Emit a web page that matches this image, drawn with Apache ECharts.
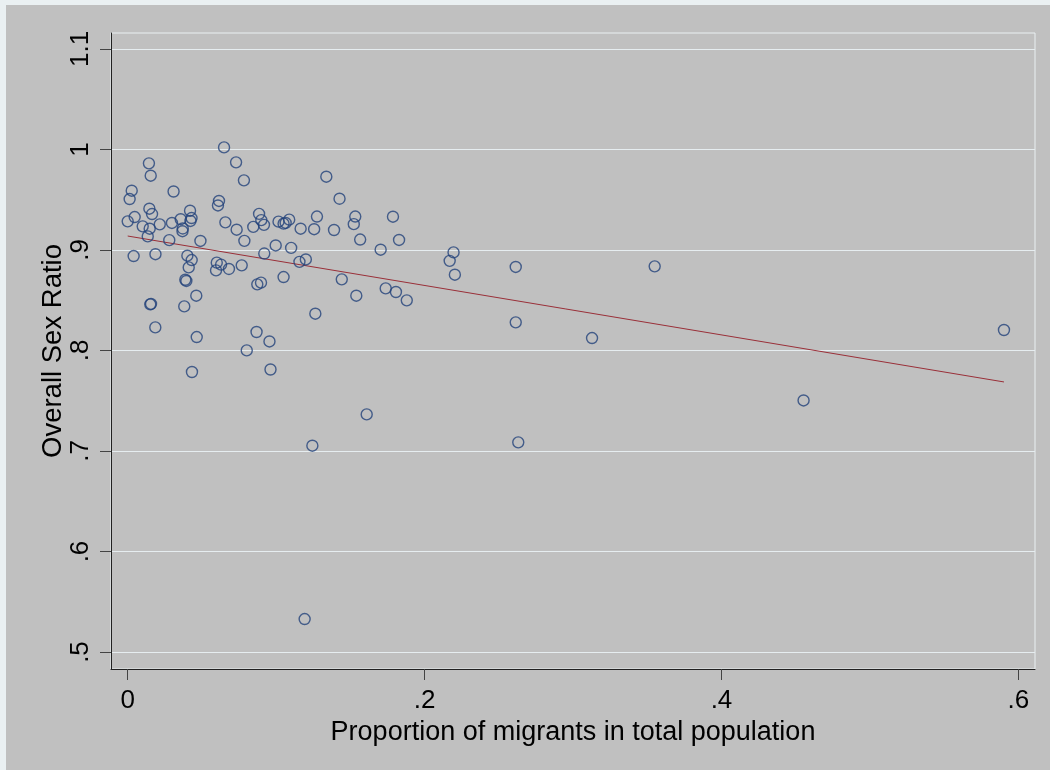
<!DOCTYPE html>
<html>
<head>
<meta charset="utf-8">
<script src="https://cdn.jsdelivr.net/npm/echarts@6/dist/echarts.min.js"></script>
<style>html,body{margin:0;padding:0;background:#eaf0f2;}#c{width:1050px;height:770px;}</style>
</head>
<body>
<div id="c"></div>
<script>
// Proportion of migrants in total population
const migrantShare = [0.0000,0.0013,0.0027,0.0047,0.0040,0.0101,0.0135,0.0143,0.0155,0.0146,
0.0164,0.0148,0.0187,0.0152,0.0157,0.0186,0.0216,0.0309,0.0298,0.0280,
0.0357,0.0371,0.0369,0.0420,0.0430,0.0423,0.0402,0.0431,0.0411,0.0388,
0.0395,0.0381,0.0433,0.0465,0.0462,0.0490,0.0615,0.0608,0.0649,0.0658,
0.0730,0.0734,0.0783,0.0786,0.0768,0.0802,0.0600,0.0595,0.0629,0.0682,
0.0846,0.0885,0.0900,0.0918,0.0920,0.0868,0.0955,0.0962,0.0873,0.0898,
0.1016,0.1050,0.1064,0.1088,0.0997,0.1101,0.1050,0.1157,0.1200,0.1165,
0.1244,0.1192,0.1264,0.1256,0.1275,0.1338,0.1390,0.1427,0.1442,0.1533,
0.1523,0.1566,0.1540,0.1610,0.1704,0.1738,0.1787,0.1807,0.1828,0.1880,
0.2195,0.2169,0.2204,0.2614,0.2614,0.2631,0.3128,0.3550,0.4553,0.5903];
// Overall Sex Ratio
const sexRatio = [0.9285,0.9507,0.9590,0.9328,0.8940,0.9235,0.9135,0.9862,0.9739,0.9411,
0.9358,0.9212,0.8958,0.8459,0.8463,0.8230,0.9255,0.9582,0.9269,0.9098,
0.9306,0.9214,0.9187,0.9391,0.9318,0.9289,0.8943,0.8900,0.8827,0.8704,
0.8692,0.8439,0.7786,0.8134,0.8545,0.9090,0.9488,0.9443,1.0021,0.9275,
0.9872,0.9202,0.9693,0.9091,0.8847,0.8001,0.8874,0.8797,0.8854,0.8811,
0.9230,0.9359,0.9297,0.9250,0.8965,0.8184,0.8090,0.7811,0.8658,0.8675,
0.9282,0.9262,0.9269,0.9302,0.9045,0.9021,0.8731,0.8882,0.8906,0.9212,
0.7053,0.5328,0.8366,0.9207,0.9333,0.9729,0.9199,0.9510,0.8708,0.9333,
0.9257,0.9104,0.8545,0.7364,0.9003,0.8618,0.9331,0.8582,0.9100,0.8499,
0.8976,0.8892,0.8754,0.8831,0.8280,0.7086,0.8124,0.8837,0.7503,0.8204];
// Fitted values (linear fit) at the ends of the data range
const fitX = [0.0, 0.5903];
const fitY = [0.9139, 0.7687];
const xTicks = [0, 0.2, 0.4, 0.6];
const yTicks = [0.5, 0.6, 0.7, 0.8, 0.9, 1.0, 1.1];

const fmt = v => { const r = Math.round(v * 10) / 10; return r === 0 ? '0' : String(r).replace(/^0\./, '.'); };
const chart = echarts.init(document.getElementById('c'), null, {renderer: 'canvas'});
const font = 'Liberation Sans, Arial, sans-serif';
chart.setOption({
  backgroundColor: 'transparent',
  animation: false,
  graphic: [{type: 'rect', left: 6, top: 5, shape: {width: 1044, height: 765}, style: {fill: '#c0c0c0'}, z: -10, silent: true}],
  grid: {left: 111, right: 15, top: 33, bottom: 101, show: true, backgroundColor: '#c0c0c0', borderColor: '#eaf0f2', borderWidth: 1},
  xAxis: {
    type: 'value', min: -0.01125, max: 0.6112,
    name: 'Proportion of migrants in total population', nameLocation: 'middle', nameGap: 45,
    nameTextStyle: {fontFamily: font, fontSize: 27, color: '#000'},
    axisLine: {show: true, onZero: false, lineStyle: {color: '#222', width: 1}},
    axisTick: {show: true, length: 11, customValues: xTicks, lineStyle: {color: '#444', width: 1}},
    axisLabel: {customValues: xTicks, formatter: fmt, fontFamily: font, fontSize: 26, color: '#000', margin: 19},
    splitLine: {show: false}
  },
  yAxis: {
    type: 'value', min: 0.4831, max: 1.1159,
    name: 'Overall Sex Ratio', nameLocation: 'middle', nameGap: 44, nameRotate: 90, nameMoveOverlap: false,
    nameTextStyle: {fontFamily: font, fontSize: 27.5, color: '#000'},
    axisLine: {show: true, onZero: false, lineStyle: {color: '#222', width: 1}},
    axisTick: {show: true, length: 11, customValues: yTicks, lineStyle: {color: '#444', width: 1}},
    axisLabel: {customValues: yTicks, formatter: fmt, rotate: 90, fontFamily: font, fontSize: 26, color: '#000', margin: 17},
    splitLine: {show: true, lineStyle: {color: '#e6edf0', width: 1}}
  },
  series: [{
    type: 'scatter', data: migrantShare.map((x, i) => [x, sexRatio[i]]),
    symbol: 'circle', symbolSize: 11,
    itemStyle: {color: 'rgba(0,0,0,0)', borderColor: '#23427a', borderWidth: 1.4}
  }, {
    type: 'line', data: fitX.map((x, i) => [x, fitY[i]]), symbol: 'none',
    lineStyle: {color: '#9a2f38', width: 1}, z: 1
  }]
});
</script>
</body>
</html>
